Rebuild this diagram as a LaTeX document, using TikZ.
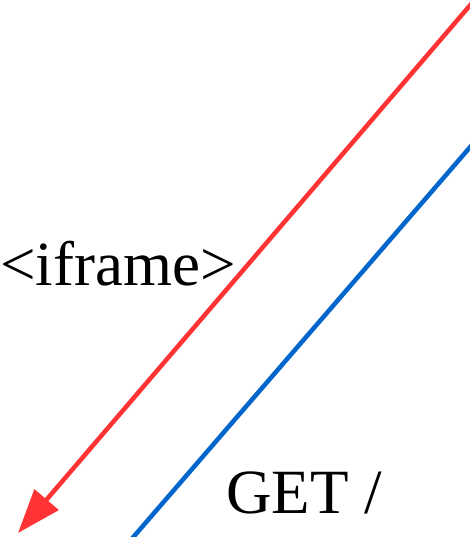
\documentclass[tikz,border=0pt]{standalone}
\usepackage{fontspec}
\setmainfont{Liberation Serif}
\usetikzlibrary{arrows.meta}
\definecolor{msgred}{HTML}{FF3333}
\definecolor{msgblue}{HTML}{0066CC}
\begin{document}
\begin{tikzpicture}[x=1pt,y=-1pt,
  msg/.style={line width=4.5pt},
  lbl/.style={inner sep=0pt,anchor=base west,font=\fontsize{63}{70}\selectfont}]
\useasboundingbox (0,0) rectangle (470,537);
\clip (0,0) rectangle (470,537);
\coordinate (rs) at (484,-11);
\coordinate (re) at (18,533);
\coordinate (bs) at (484,131);
\coordinate (be) at (123,549);
\draw[msg,msgred,-{Triangle[length=44pt,width=31pt]}] (rs) -- (re);
\draw[msg,msgblue] (bs) -- (be);
\node[lbl] (ifr) at (0,285) {<iframe>};
\node[lbl] (get) at (226,513) {GET /};
\end{tikzpicture}
\end{document}
